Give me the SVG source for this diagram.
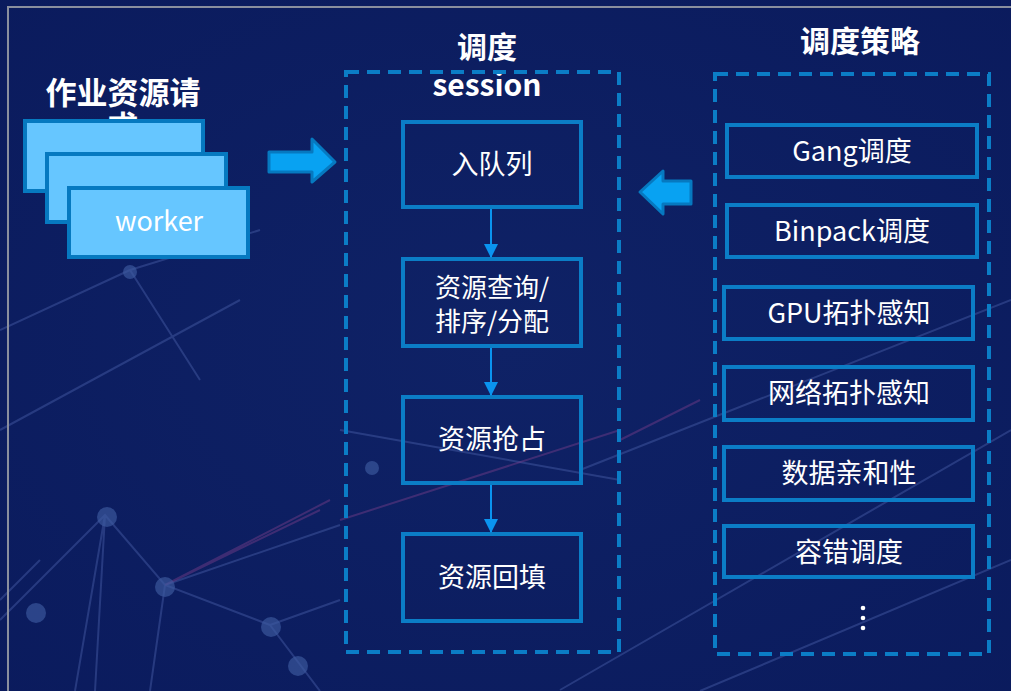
<svg xmlns="http://www.w3.org/2000/svg" width="1011" height="691" viewBox="0 0 1011 691">
<defs>
<style>
.t{font-family:"Microsoft YaHei","Noto Sans CJK SC","Noto Sans",sans-serif;fill:#ffffff}
.title{font-size:30px;font-weight:bold}
.lbl{font-size:27px}
.lbl2{font-size:26px}
.box{fill:none;stroke:#0b7dc6;stroke-width:4}
.dash{fill:none;stroke:#0b7dc6;stroke-width:4;stroke-dasharray:13 8}
.wk{fill:#66c6ff;stroke:#0679c0;stroke-width:4}
.bigarrow{fill:#08a2f2;stroke:#0679c0;stroke-width:3;stroke-linejoin:round}
.flow{stroke:#0a94f0;stroke-width:2;fill:none}
.net{stroke:#4a5fa8;stroke-width:2;fill:none;opacity:0.45}
.netp{stroke:#7a3d8a;stroke-width:2;fill:none;opacity:0.45}
.dot{fill:#3e5aa0;opacity:0.65}
</style>
<marker id="ah" viewBox="0 0 14 14" refX="13" refY="7" markerWidth="14" markerHeight="14" markerUnits="userSpaceOnUse" orient="auto">
<path d="M0,0 L14,7 L0,14 Z" fill="#0a94f0"/>
</marker>
<radialGradient id="bg" cx="0.5" cy="0.5" r="0.8">
<stop offset="0" stop-color="#0f2266"/>
<stop offset="1" stop-color="#0a1a5c"/>
</radialGradient>
</defs>
<rect x="0" y="0" width="1011" height="691" fill="url(#bg)"/>
<g id="background">
<path class="net" d="M0,620 L105,515 L165,585 L270,625 M105,515 L95,691 M165,585 L150,691 M105,515 L75,691 M165,585 L340,525 M270,625 L320,691 M270,625 L340,600"/>
<path class="netp" d="M165,585 L330,500 M165,585 L320,510"/>
<path class="net" d="M130,270 L0,330 M130,270 L260,230 M130,270 L200,380 M0,430 L240,300 M40,560 L0,600"/>
<path class="net" d="M580,470 L1011,300 M560,690 L1011,430 M700,691 L1011,560 M340,430 L620,480"/>
<path class="netp" d="M340,520 L620,430 M620,440 L700,400"/>
<circle class="dot" cx="107" cy="517" r="10"/>
<circle class="dot" cx="165" cy="587" r="10"/>
<circle class="dot" cx="271" cy="627" r="10"/>
<circle class="dot" cx="36" cy="613" r="10"/>
<circle class="dot" cx="298" cy="666" r="10"/>
<circle class="dot" cx="130" cy="272" r="7"/>
<circle class="dot" cx="372" cy="468" r="7"/>
</g>
<path d="M8,691 L8,7 L1011,7" fill="none" stroke="#8a8f9e" stroke-width="2"/>

<g id="job-title">
<text class="t title" x="123" y="104" text-anchor="middle" style="font-size:31px">作业资源请</text>
<text class="t title" x="123" y="138" text-anchor="middle" style="font-size:31px">求</text>
</g>
<g id="workers">
<rect class="wk" x="25" y="121" width="178" height="70"/>
<rect class="wk" x="47" y="154" width="179" height="68"/>
<rect class="wk" x="69" y="188" width="179" height="69"/>
<text class="t lbl" x="159" y="231" text-anchor="middle">worker</text>
</g>

<g id="arrow-in">
<path class="bigarrow" d="M269,152 L312,152 L312,139 L335,162 L312,182 L312,172 L269,172 Z"/>
</g>

<g id="session">
<text class="t title" x="487" y="58" text-anchor="middle">调度</text>
<text class="t title" x="487" y="96" text-anchor="middle">session</text>
<rect class="dash" x="346" y="72" width="273" height="580"/>
</g>

<g id="enqueue">
<rect class="box" x="403" y="122" width="178" height="85"/>
<text class="t lbl" x="492" y="174" text-anchor="middle">入队列</text>
</g>
<g id="allocate">
<rect class="box" x="403" y="259" width="178" height="87"/>
<text class="t lbl2" x="492" y="297" text-anchor="middle">资源查询/</text>
<text class="t lbl2" x="492" y="331" text-anchor="middle">排序/分配</text>
</g>
<g id="preempt">
<rect class="box" x="403" y="397" width="178" height="86"/>
<text class="t lbl" x="492" y="449" text-anchor="middle">资源抢占</text>
</g>
<g id="backfill">
<rect class="box" x="403" y="534" width="178" height="87"/>
<text class="t lbl" x="492" y="587" text-anchor="middle">资源回填</text>
</g>

<g id="connectors">
<line class="flow" x1="491" y1="209" x2="491" y2="257" marker-end="url(#ah)"/>
<line class="flow" x1="491" y1="348" x2="491" y2="395" marker-end="url(#ah)"/>
<line class="flow" x1="491" y1="485" x2="491" y2="532" marker-end="url(#ah)"/>
</g>

<g id="arrow-policy">
<path class="bigarrow" d="M691,181 L663,181 L663,171 L640,192 L663,214 L663,204 L691,204 Z"/>
</g>

<g id="policies">
<text class="t title" x="860" y="52" text-anchor="middle">调度策略</text>
<rect class="dash" x="715" y="74" width="274" height="580"/>
</g>
<g id="gang">
<rect class="box" x="727" y="125" width="250" height="52"/>
<text class="t lbl" x="852" y="161" text-anchor="middle">Gang调度</text>
</g>
<g id="binpack">
<rect class="box" x="727" y="205" width="250" height="52"/>
<text class="t lbl" x="852" y="241" text-anchor="middle">Binpack调度</text>
</g>
<g id="gpu">
<rect class="box" x="724" y="287" width="249" height="52"/>
<text class="t lbl" x="849" y="323" text-anchor="middle">GPU拓扑感知</text>
</g>
<g id="network">
<rect class="box" x="724" y="367" width="249" height="53"/>
<text class="t lbl" x="849" y="403" text-anchor="middle">网络拓扑感知</text>
</g>
<g id="data">
<rect class="box" x="724" y="447" width="249" height="53"/>
<text class="t lbl" x="849" y="483" text-anchor="middle">数据亲和性</text>
</g>
<g id="fault">
<rect class="box" x="724" y="526" width="249" height="51"/>
<text class="t lbl" x="849" y="562" text-anchor="middle">容错调度</text>
</g>
<g id="more">
<circle cx="863" cy="608" r="2.3" fill="#fff"/>
<circle cx="863" cy="618" r="2.3" fill="#fff"/>
<circle cx="863" cy="628" r="2.3" fill="#fff"/>
</g>
</svg>
